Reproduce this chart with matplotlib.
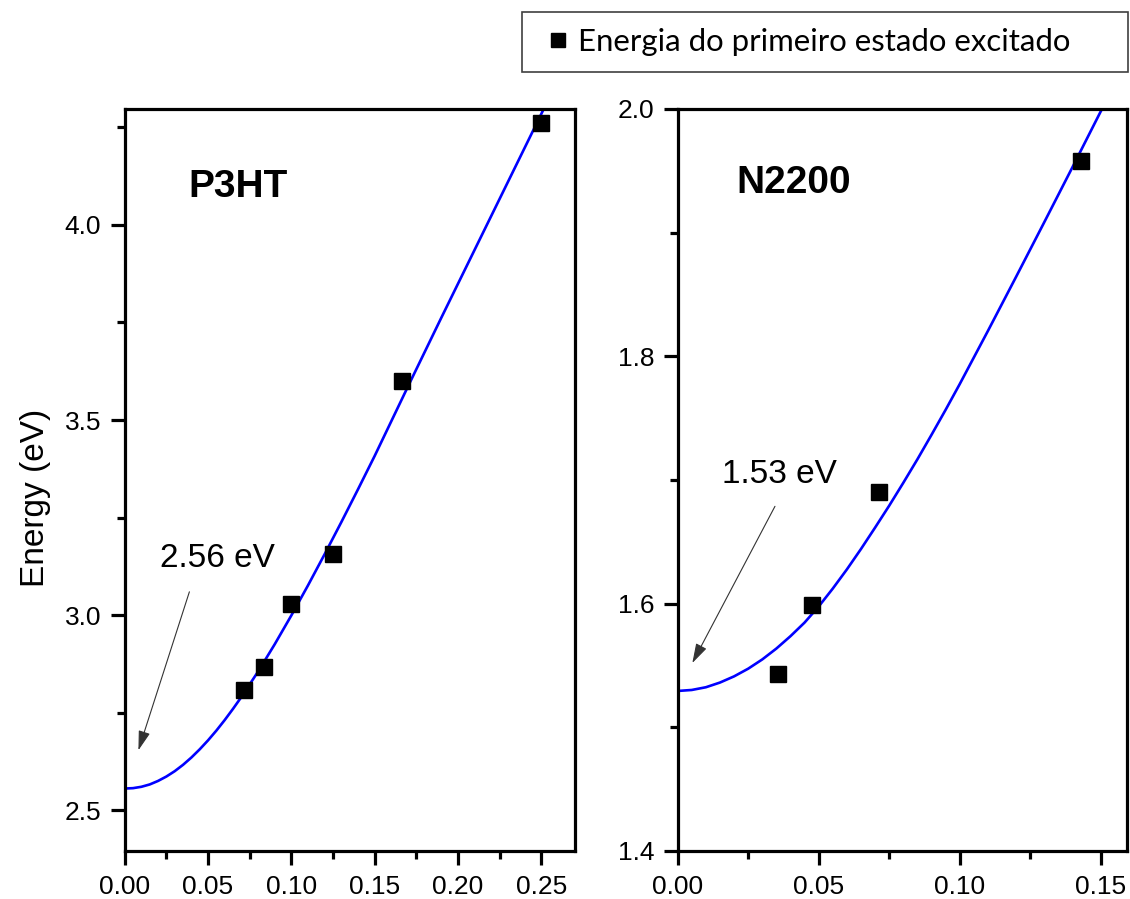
import matplotlib
matplotlib.use('Agg')
import matplotlib.pyplot as plt
from matplotlib.patches import Rectangle
from matplotlib.ticker import MultipleLocator

plt.rcParams['font.family'] = ['Liberation Sans', 'DejaVu Sans']

# P3HT: measured points and fitted curve (1/N vs energy)
p3ht_x = [0.0714, 0.0833, 0.100, 0.125, 0.1667, 0.250]
p3ht_e = [2.808, 2.868, 3.030, 3.158, 3.600, 4.262]
p3ht_fit_x = [0.000, 0.005, 0.010, 0.015, 0.020, 0.025, 0.030, 0.035, 0.040, 0.045,
              0.050, 0.055, 0.060, 0.065, 0.070, 0.080, 0.090, 0.100, 0.110, 0.120,
              0.130, 0.140, 0.150, 0.160, 0.170, 0.180, 0.190, 0.200, 0.210, 0.220,
              0.230, 0.240, 0.250, 0.2515]
p3ht_fit_e = [2.5560, 2.5570, 2.5605, 2.5665, 2.5755, 2.5868, 2.6005, 2.6168, 2.6355, 2.6565,
              2.6795, 2.7045, 2.7315, 2.7603, 2.7905, 2.8555, 2.9255, 2.9995, 3.0765, 3.1565,
              3.2385, 3.3225, 3.4080, 3.4970, 3.5860, 3.6740, 3.7620, 3.8490, 3.9360, 4.0230,
              4.1100, 4.1970, 4.2840, 4.2970]

# N2200
n2200_x = [0.0357, 0.0476, 0.0714, 0.1429]
n2200_e = [1.543, 1.599, 1.690, 1.958]
n2200_fit_x = [0.000, 0.005, 0.010, 0.015, 0.020, 0.025, 0.030, 0.035, 0.040, 0.045,
               0.050, 0.055, 0.060, 0.065, 0.070, 0.075, 0.080, 0.085, 0.090, 0.095,
               0.100, 0.110, 0.120, 0.130, 0.140, 0.150, 0.1505]
n2200_fit_e = [1.5294, 1.5302, 1.5324, 1.5362, 1.5412, 1.5474, 1.5549, 1.5637, 1.5737, 1.5847,
               1.5977, 1.6122, 1.6277, 1.6442, 1.6615, 1.6792, 1.6977, 1.7167, 1.7365, 1.7567,
               1.7775, 1.8205, 1.8643, 1.9085, 1.9530, 1.9980, 2.0000]

legend_label = 'Energia do primeiro estado excitado'


def style(ax):
    for s in ax.spines.values():
        s.set_linewidth(2.3)
    ax.tick_params(which='both', direction='out', top=False, right=False,
                   labelsize=19, pad=7)
    ax.tick_params(which='major', length=10, width=2.3)
    ax.tick_params(which='minor', length=5.5, width=2.3)


fig = plt.figure(figsize=(11.3, 8.99), dpi=100)
ax1 = fig.add_axes([0.1104, 0.0534, 0.3985, 0.8254])
ax2 = fig.add_axes([0.5997, 0.0534, 0.3976, 0.8254])

# left panel
h, = ax1.plot(p3ht_x, p3ht_e, 's', color='black', markersize=11, zorder=3)
ax1.plot(p3ht_fit_x, p3ht_fit_e, '-', color='#0000ff', lw=1.9, zorder=2)
ax1.set_xlim(0, 0.2703)
ax1.set_ylim(2.396, 4.297)
ax1.xaxis.set_major_locator(MultipleLocator(0.05))
ax1.xaxis.set_minor_locator(MultipleLocator(0.025))
ax1.yaxis.set_major_locator(MultipleLocator(0.5))
ax1.yaxis.set_minor_locator(MultipleLocator(0.25))
ax1.xaxis.set_major_formatter(plt.FormatStrFormatter('%.2f'))
ax1.yaxis.set_major_formatter(plt.FormatStrFormatter('%.1f'))
style(ax1)
ax1.set_ylabel('Energy (eV)', fontsize=24)
ax1.yaxis.set_label_coords(-0.164, 0.476)
ax1.text(0.1406, 0.881, 'P3HT', transform=ax1.transAxes, fontsize=28,
         fontweight='bold', ha='left', va='baseline')
ax1.text(0.0212, 3.124, '2.56 eV', fontsize=24, ha='left', va='baseline')
ax1.annotate('', xy=(0.0082, 2.654), xytext=(0.0388, 3.060),
             arrowprops=dict(arrowstyle='-|>,head_length=0.6,head_width=0.18',
                             color='#333333', lw=0.8, mutation_scale=20,
                             shrinkA=0, shrinkB=0))

# right panel
ax2.plot(n2200_x, n2200_e, 's', color='black', markersize=11, zorder=3)
ax2.plot(n2200_fit_x, n2200_fit_e, '-', color='#0000ff', lw=1.9, zorder=2)
ax2.set_xlim(0, 0.1593)
ax2.set_ylim(1.4, 2.0)
ax2.xaxis.set_major_locator(MultipleLocator(0.05))
ax2.xaxis.set_minor_locator(MultipleLocator(0.025))
ax2.yaxis.set_major_locator(MultipleLocator(0.2))
ax2.yaxis.set_minor_locator(MultipleLocator(0.1))
ax2.xaxis.set_major_formatter(plt.FormatStrFormatter('%.2f'))
ax2.yaxis.set_major_formatter(plt.FormatStrFormatter('%.1f'))
style(ax2)
ax2.text(0.1298, 0.8864, 'N2200', transform=ax2.transAxes, fontsize=28,
         fontweight='bold', ha='left', va='baseline')
ax2.text(0.0156, 1.6974, '1.53 eV', fontsize=24, ha='left', va='baseline')
ax2.annotate('', xy=(0.0052, 1.552), xytext=(0.0345, 1.6787),
             arrowprops=dict(arrowstyle='-|>,head_length=0.6,head_width=0.18',
                             color='#333333', lw=0.8, mutation_scale=20,
                             shrinkA=0, shrinkB=0))

# legend box at top
fig.add_artist(Rectangle((0.4619, 0.9199), 0.5363, 0.0667, transform=fig.transFigure,
                         fill=False, edgecolor='#404040', lw=1.2))
fig.legend(handles=[h], labels=[legend_label], loc='center left',
           bbox_to_anchor=(0.4606, 0.9533), frameon=False,
           prop={'family': 'Lato', 'size': 22.4}, handlelength=0.6,
           handletextpad=0.35, borderpad=0.4, markerscale=0.9)

fig.savefig('out.png', dpi=100)
